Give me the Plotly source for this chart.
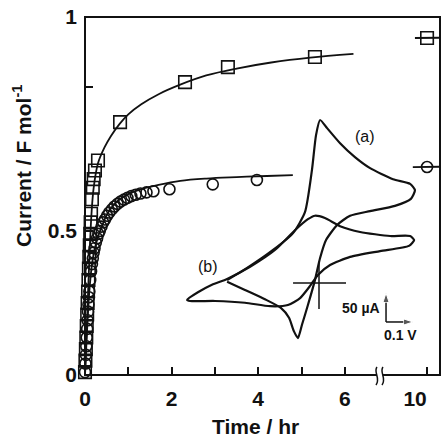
import plotly.graph_objects as go

# ---------------- main data (time in hr, current in F mol^-1) ----------------
t_sq = [0.00, 0.01, 0.02, 0.03, 0.04, 0.05, 0.06, 0.07, 0.08, 0.09, 0.10, 0.11,
        0.12, 0.13, 0.14, 0.16, 0.18, 0.20, 0.23, 0.30, 0.81, 2.31, 3.30, 5.31]
v_sq = [0.01, 0.05, 0.09, 0.13, 0.17, 0.21, 0.25, 0.29, 0.33, 0.37, 0.41, 0.45,
        0.49, 0.53, 0.56, 0.61, 0.65, 0.68, 0.71, 0.745, 0.878, 1.017, 1.069, 1.104]
t_sq_late = [10.0]
v_sq_late = [1.170]

t_ci = [0.00, 0.01, 0.02, 0.03, 0.04, 0.05, 0.06, 0.07, 0.08, 0.09, 0.10, 0.12,
        0.14, 0.16, 0.18, 0.20, 0.22, 0.25, 0.28, 0.31, 0.34, 0.38, 0.42, 0.46,
        0.51, 0.56, 0.62, 0.68, 0.75, 0.82, 0.90, 0.98, 1.07, 1.17, 1.28, 1.42,
        1.58, 1.95, 2.95, 3.97]
v_ci = [0.01, 0.04, 0.07, 0.10, 0.13, 0.16, 0.19, 0.22, 0.245, 0.27, 0.29, 0.33,
        0.36, 0.385, 0.405, 0.425, 0.44, 0.46, 0.475, 0.49, 0.50, 0.515, 0.53, 0.54,
        0.553, 0.564, 0.575, 0.585, 0.594, 0.602, 0.609, 0.615, 0.621, 0.626, 0.63, 0.634,
        0.638, 0.645, 0.662, 0.677]
t_ci_late = [10.0]
v_ci_late = [0.722]

# fitted curves
t_fit_sq = [0, 0.03, 0.06, 0.10, 0.15, 0.20, 0.30, 0.45, 0.60, 0.80, 1.0, 1.3,
            1.7, 2.2, 2.8, 3.5, 4.3, 5.2, 6.2]
v_fit_sq = [0, 0.12, 0.24, 0.40, 0.56, 0.65, 0.735, 0.79, 0.83, 0.872, 0.905, 0.94,
            0.975, 1.008, 1.04, 1.064, 1.085, 1.102, 1.115]
t_fit_sq_late = [9.72, 10.30]
v_fit_sq_late = [1.170, 1.171]

t_fit_ci = [0, 0.03, 0.06, 0.10, 0.15, 0.20, 0.30, 0.40, 0.50, 0.65, 0.80, 1.0,
            1.3, 1.7, 2.2, 2.8, 3.5, 4.2, 4.8]
v_fit_ci = [0, 0.10, 0.19, 0.29, 0.37, 0.42, 0.48, 0.52, 0.555, 0.588, 0.61, 0.628,
            0.645, 0.66, 0.674, 0.682, 0.687, 0.691, 0.694]
t_fit_ci_late = [9.67, 10.30]
v_fit_ci_late = [0.722, 0.723]

# ---------------- inset cyclic voltammograms (E / V, I / uA) ----------------
E_a = [-0.340, -0.266, -0.170, -0.096, -0.052, -0.026, -0.011, 0.004, 0.030, 0.078,
       0.133, 0.189, 0.274, 0.337, 0.355, 0.340, 0.281, 0.189, 0.115, 0.067,
       0.026, 0.004, -0.015, -0.041, -0.063, -0.078, -0.093, -0.111, -0.141, -0.200,
       -0.274, -0.340]
I_a = [5, 26, 57, 86, 122, 195, 255, 281, 267, 241,
       217, 198, 179, 171, 160, 145, 133, 124, 116, 100,
       74, 43, 5, -38, -72, -95, -83, -60, -43, -28,
       -12, 2]

E_b = [-0.488, -0.448, -0.396, -0.340, -0.255, -0.163, -0.089, -0.041, -0.015, 0.022,
       0.078, 0.152, 0.263, 0.337, 0.352, 0.333, 0.226, 0.115, 0.041, -0.004,
       -0.033, -0.070, -0.115, -0.181, -0.274, -0.385, -0.477, -0.488]
I_b = [-29, -16, -3, 7, 28, 57, 91, 110, 116, 112,
       98, 88, 81, 81, 74, 64, 55, 45, 31, 14,
       -5, -26, -38, -40, -34, -31, -31, -29]

cross_E_h = [-0.096, 0.100]
cross_I_h = [0, 0]
cross_E_v = [0, 0]
cross_I_v = [34.5, -44.8]

bar_E0, bar_I0 = 0.248, -67.2   # scale bar origin
bar_dE, bar_dI = 0.1, 50        # 0.1 V, 50 uA

x_ticks = [0, 2, 4, 6]
x_ticktext = ['0', '2', '4', '6']
x_minor = [1, 3, 5]
y_ticks = [0, 0.5, 1.243]
y_ticktext = ['0', '0.5', '1']
y_minor = [1]

FONT = 'Liberation Sans, Arial, Helvetica, sans-serif'
BLACK = '#111111'

fig = go.Figure()

sq_marker = dict(symbol='square-open', size=12.5, color=BLACK, line=dict(width=1.6, color=BLACK))
ci_marker = dict(symbol='circle-open', size=11, color=BLACK, line=dict(width=1.6, color=BLACK))

fig.add_trace(go.Scatter(x=t_fit_sq, y=v_fit_sq, mode='lines', line=dict(color=BLACK, width=1.8, shape='spline'),
                         xaxis='x', yaxis='y', showlegend=False))
fig.add_trace(go.Scatter(x=t_fit_ci, y=v_fit_ci, mode='lines', line=dict(color=BLACK, width=1.8, shape='spline'),
                         xaxis='x', yaxis='y', showlegend=False))
fig.add_trace(go.Scatter(x=t_sq, y=v_sq, mode='markers', marker=sq_marker, cliponaxis=False,
                         xaxis='x', yaxis='y', showlegend=False))
fig.add_trace(go.Scatter(x=t_ci, y=v_ci, mode='markers', marker=ci_marker, cliponaxis=False,
                         xaxis='x', yaxis='y', showlegend=False))

fig.add_trace(go.Scatter(x=t_fit_sq_late, y=v_fit_sq_late, mode='lines', line=dict(color=BLACK, width=1.8),
                         xaxis='x2', yaxis='y', showlegend=False, cliponaxis=False))
fig.add_trace(go.Scatter(x=t_fit_ci_late, y=v_fit_ci_late, mode='lines', line=dict(color=BLACK, width=1.8),
                         xaxis='x2', yaxis='y', showlegend=False, cliponaxis=False))
fig.add_trace(go.Scatter(x=t_sq_late, y=v_sq_late, mode='markers', marker=sq_marker,
                         xaxis='x2', yaxis='y', showlegend=False, cliponaxis=False))
fig.add_trace(go.Scatter(x=t_ci_late, y=v_ci_late, mode='markers', marker=ci_marker,
                         xaxis='x2', yaxis='y', showlegend=False, cliponaxis=False))

# inset
fig.add_trace(go.Scatter(x=E_a, y=I_a, mode='lines', line=dict(color=BLACK, width=2.2, shape='spline', smoothing=0.6),
                         xaxis='x3', yaxis='y3', showlegend=False))
fig.add_trace(go.Scatter(x=E_b, y=I_b, mode='lines', line=dict(color=BLACK, width=2.2, shape='spline', smoothing=0.6),
                         xaxis='x3', yaxis='y3', showlegend=False))
fig.add_trace(go.Scatter(x=cross_E_h, y=cross_I_h, mode='lines', line=dict(color=BLACK, width=1.5),
                         xaxis='x3', yaxis='y3', showlegend=False))
fig.add_trace(go.Scatter(x=cross_E_v, y=cross_I_v, mode='lines', line=dict(color=BLACK, width=1.5),
                         xaxis='x3', yaxis='y3', showlegend=False))
# scale bar arrows
fig.add_trace(go.Scatter(x=[bar_E0, bar_E0], y=[bar_I0, bar_I0 + bar_dI], mode='lines+markers',
                         line=dict(color=BLACK, width=1.5),
                         marker=dict(symbol='arrow', angleref='previous', size=[0, 10], color=BLACK),
                         xaxis='x3', yaxis='y3', showlegend=False, cliponaxis=False))
fig.add_trace(go.Scatter(x=[bar_E0, bar_E0 + bar_dE], y=[bar_I0, bar_I0], mode='lines+markers',
                         line=dict(color=BLACK, width=1.5),
                         marker=dict(symbol='arrow', angleref='previous', size=[0, 10], color=BLACK),
                         xaxis='x3', yaxis='y3', showlegend=False, cliponaxis=False))

tickfont = dict(family=FONT, size=21, color=BLACK, weight='bold')
minor_style = dict(ticks='inside', ticklen=8, tickwidth=1.5, tickcolor=BLACK, showgrid=False)
common_x = dict(ticks='inside', ticklen=8, tickwidth=1.5, tickcolor=BLACK, showgrid=False,
                zeroline=False, showline=False, tickfont=tickfont, anchor='y', automargin=False)

fig.update_layout(
    width=441, height=439,
    margin=dict(l=85, r=1, t=17, b=64, autoexpand=False),
    paper_bgcolor='white', plot_bgcolor='rgba(0,0,0,0)',
    showlegend=False,
    xaxis=dict(domain=[0, 0.831], range=[0, 6.813], tickmode='array', tickvals=x_ticks, ticktext=x_ticktext,
               minor=dict(tickmode='array', tickvals=x_minor, **minor_style),
               ticklabelstandoff=9, **common_x),
    xaxis2=dict(domain=[0.831, 1], range=[8.91, 10.30], tickmode='array', tickvals=[10], ticktext=['10'],
                ticklabelshift=-12, ticklabelstandoff=9, **common_x),
    yaxis=dict(range=[0, 1.243], tickmode='array', tickvals=y_ticks, ticktext=y_ticktext,
               minor=dict(tickmode='array', tickvals=y_minor, **minor_style),
               ticks='inside', ticklen=8,
               tickwidth=1.5, tickcolor=BLACK, showgrid=False, zeroline=False, showline=False,
               tickfont=tickfont, ticklabelstandoff=7, anchor='x', automargin=False),
    xaxis3=dict(domain=[0, 1], range=[-0.8658, 0.4477], visible=False, anchor='y3', automargin=False),
    yaxis3=dict(domain=[0, 1], range=[-158.6, 458.6], visible=False, anchor='x3', automargin=False),
    font=dict(family=FONT, color=BLACK),
)

# frame, axis break
shapes = [
    dict(type='rect', xref='paper', yref='paper', x0=0, x1=1, y0=0, y1=1,
         line=dict(color=BLACK, width=2), layer='above'),
    dict(type='rect', xref='paper', yref='paper', x0=0.8225, x1=0.8394, y0=-0.008, y1=0.008,
         fillcolor='white', line=dict(width=0), layer='above'),
    dict(type='path', xref='paper', yref='paper',
         path='M 0.8225 0.0223 C 0.8113 0.0084, 0.8338 -0.0084, 0.8197 -0.0279',
         line=dict(color=BLACK, width=1.5), layer='above'),
    dict(type='path', xref='paper', yref='paper',
         path='M 0.8394 0.0223 C 0.8282 0.0084, 0.8507 -0.0084, 0.8366 -0.0279',
         line=dict(color=BLACK, width=1.5), layer='above'),
]
fig.update_layout(shapes=shapes)

ann = [
    dict(text='Time / hr', xref='paper', yref='paper', x=0.479, y=-0.145, showarrow=False,
         xanchor='center', yanchor='middle', font=dict(size=21, weight='bold')),
    dict(text='Current / F mol<sup>-1</sup>', xref='paper', yref='paper', x=-0.1775, y=0.584,
         textangle=-90, showarrow=False, xanchor='center', yanchor='middle',
         font=dict(size=21, weight='bold')),
    dict(text='(a)', xref='x3', yref='y3', x=0.170, y=252, showarrow=False,
         font=dict(size=16)),
    dict(text='(b)', xref='x3', yref='y3', x=-0.411, y=28, showarrow=False,
         font=dict(size=16)),
    dict(text='50 µA', xref='x3', yref='y3', x=bar_E0 - 0.015, y=bar_I0 + 24, showarrow=False,
         xanchor='right', yanchor='middle', font=dict(size=14, weight='bold')),
    dict(text='0.1 V', xref='x3', yref='y3', x=bar_E0 + 0.052, y=bar_I0 - 22.5, showarrow=False,
         xanchor='center', yanchor='middle', font=dict(size=14, weight='bold')),
]
fig.update_layout(annotations=ann)

fig.write_html('out.html', config={'displayModeBar': False},
               post_script="document.body.style.margin='0px';")
